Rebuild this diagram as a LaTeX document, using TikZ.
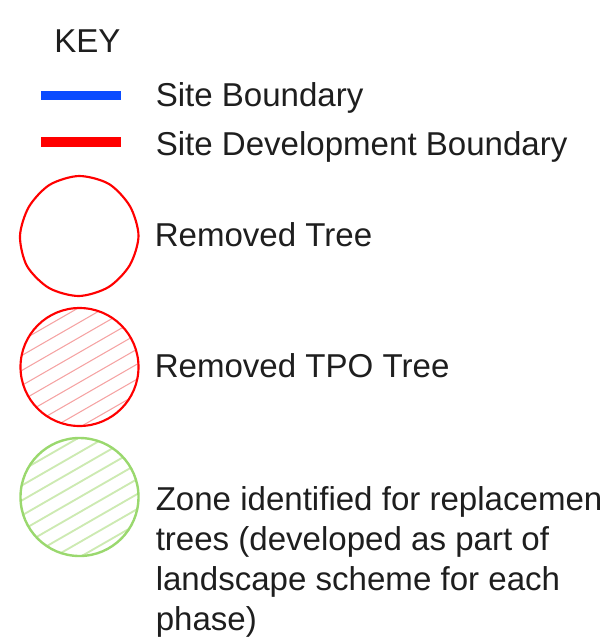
\documentclass[tikz,border=0pt]{standalone}
\usepackage{fontspec}
\setmainfont{Liberation Sans}
\definecolor{keyblue}{HTML}{0A4BFF}
\definecolor{keyred}{HTML}{FF0000}
\definecolor{keygreen}{HTML}{9AD86E}
\definecolor{hatchred}{HTML}{F5A3A3}
\definecolor{hatchgreen}{HTML}{CDEAB2}
\definecolor{keytext}{HTML}{1E1E1E}
\tikzset{
  keylabel/.style={anchor=base west, inner sep=0pt, text=keytext,
    font=\fontsize{24.8}{30}\selectfont},
  keyline/.style={line width=6.8pt},
  treering/.style={line width=1.6pt},
  redhatch/.style={hatchred, line width=0.8pt},
  greenhatch/.style={hatchgreen, line width=1.4pt},
}
\begin{document}
\begin{tikzpicture}[x=0.75pt, y=-0.75pt]
\useasboundingbox (0,0) rectangle (607,643);

\node[keylabel] (key) at (54,52) {KEY};

% boundary lines
\coordinate (sb1) at (41,95.5);
\coordinate (sb2) at (121,95.5);
\draw[keyline, keyblue] (sb1) -- (sb2);
\node[keylabel] (sb) at (155.5,106) {Site Boundary};

\coordinate (sdb1) at (41,142);
\coordinate (sdb2) at (121,142);
\draw[keyline, keyred] (sdb1) -- (sdb2);
\node[keylabel] (sdb) at (155.5,155.5) {Site Development Boundary};

% removed tree (hand drawn ring)
\draw[treering, keyred] plot[smooth cycle] coordinates {
  (138.5,236) (130.1,206.5) (109,184) (79,176) (49.5,184.9) (28.8,207)
  (20,236) (27,266) (49,288) (79,296) (108.5,287.1) (129.7,265.3)};
\node[keylabel] (rt) at (154.5,246.5) {Removed Tree};

% removed TPO tree
\begin{scope}
  \clip (79.5,367) circle[radius=59];
  \foreach \k in {-150,-135,...,150}
    \draw[redhatch] (0,367+\k+46) -- (160,367+\k-46);
\end{scope}
\draw[treering, keyred] (79.5,367) circle[radius=59];
\node[keylabel] (rtpo) at (154.5,377) {Removed TPO Tree};

% replacement zone
\begin{scope}
  \clip (79.5,497) circle[radius=59];
  \foreach \k in {-150,-135,...,150}
    \draw[greenhatch] (0,497+\k+46) -- (160,497+\k-46);
\end{scope}
\draw[treering, keygreen, line width=1.8pt] (79.5,497) circle[radius=59];
\begin{scope}
  \clip (0,0) rectangle (601,643);
  \node[keylabel, align=left, font=\fontsize{24.8}{30}\selectfont] (zone) at (155.5,630)
    {Zone identified for replacement\\trees (developed as part of\\landscape scheme for each\\phase)};
\end{scope}
\end{tikzpicture}
\end{document}
